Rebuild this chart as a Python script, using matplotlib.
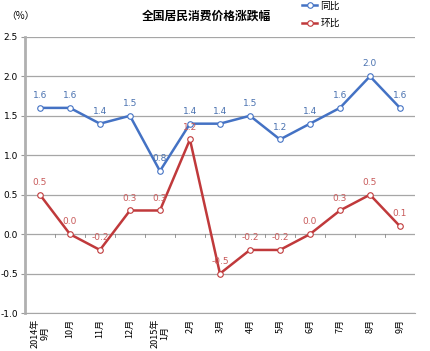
import numpy as np
import matplotlib.pyplot as plt

plt.rcParams['font.family'] = ['Noto Sans CJK SC', 'DejaVu Sans']

# data
months = ['2014年\n9月', '10月', '11月', '12月', '2015年\n1月', '2月', '3月',
          '4月', '5月', '6月', '7月', '8月', '9月']
yoy = [1.6, 1.6, 1.4, 1.5, 0.8, 1.4, 1.4, 1.5, 1.2, 1.4, 1.6, 2.0, 1.6]
mom = [0.5, 0.0, -0.2, 0.3, 0.3, 1.2, -0.5, -0.2, -0.2, 0.0, 0.3, 0.5, 0.1]
yticks = [-1.0, -0.5, 0.0, 0.5, 1.0, 1.5, 2.0, 2.5]

blue = '#4472c4'
red = '#c0393b'

fig = plt.figure(figsize=(4.3, 3.51), dpi=100)
ax = fig.add_axes([0.058, 0.108, 0.907, 0.787])

x = np.arange(len(months))
ax.plot(x, yoy, color=blue, lw=1.8, marker='o', ms=4, mfc='white', mec=blue, mew=0.8, label='同比', zorder=3)
ax.plot(x, mom, color=red, lw=1.8, marker='o', ms=4, mfc='white', mec=red, mew=0.8, label='环比', zorder=3)

for xi, v in zip(x, yoy):
    ax.text(xi, v + 0.1, f'{v:.1f}', color='#4a72b0', fontsize=6.5, ha='center', va='bottom', family='DejaVu Sans')
for xi, v in zip(x, mom):
    ax.text(xi, v + 0.1, f'{v:.1f}', color='#c85a5a', fontsize=6.5, ha='center', va='bottom', family='DejaVu Sans')

ax.set_xlim(-0.5, len(months) - 0.5)
ax.set_ylim(-1.0, 2.5)
ax.set_yticks(yticks)
ax.set_yticklabels([f'{t:.1f}' for t in yticks], fontsize=6.5, family='DejaVu Sans')
ax.set_xticks(x)
ax.set_xticklabels(months, rotation=90, fontsize=6.5, va='top', ha='center', linespacing=1.1)
ax.tick_params(axis='x', length=0, pad=4)
ax.tick_params(axis='y', length=3, color='#999999', pad=2)

ax.grid(axis='y', color='#a6a6a6', lw=0.9)
ax.set_axisbelow(True)
for s in ['top', 'right']:
    ax.spines[s].set_visible(False)
ax.spines['left'].set_color('#b0b0b0')
ax.spines['left'].set_linewidth(2)
ax.spines['bottom'].set_color('#a6a6a6')

# category boundary ticks on the zero line
for b in np.arange(len(months) + 1) - 0.5:
    ax.plot([b, b], [0, -0.04], color='#888888', lw=0.6, zorder=2)

fig.text(0.015, 0.955, '（%）', fontsize=7, ha='left', va='center')
fig.text(0.48, 0.955, '全国居民消费价格涨跌幅', fontsize=8.5, fontweight='bold', ha='center', va='center')
ax.legend(loc='upper left', bbox_to_anchor=(0.70, 1.145), frameon=False, fontsize=7,
          handlelength=1.6, handletextpad=0.3, labelspacing=0.75, borderaxespad=0)

fig.savefig('out.png', dpi=100)
